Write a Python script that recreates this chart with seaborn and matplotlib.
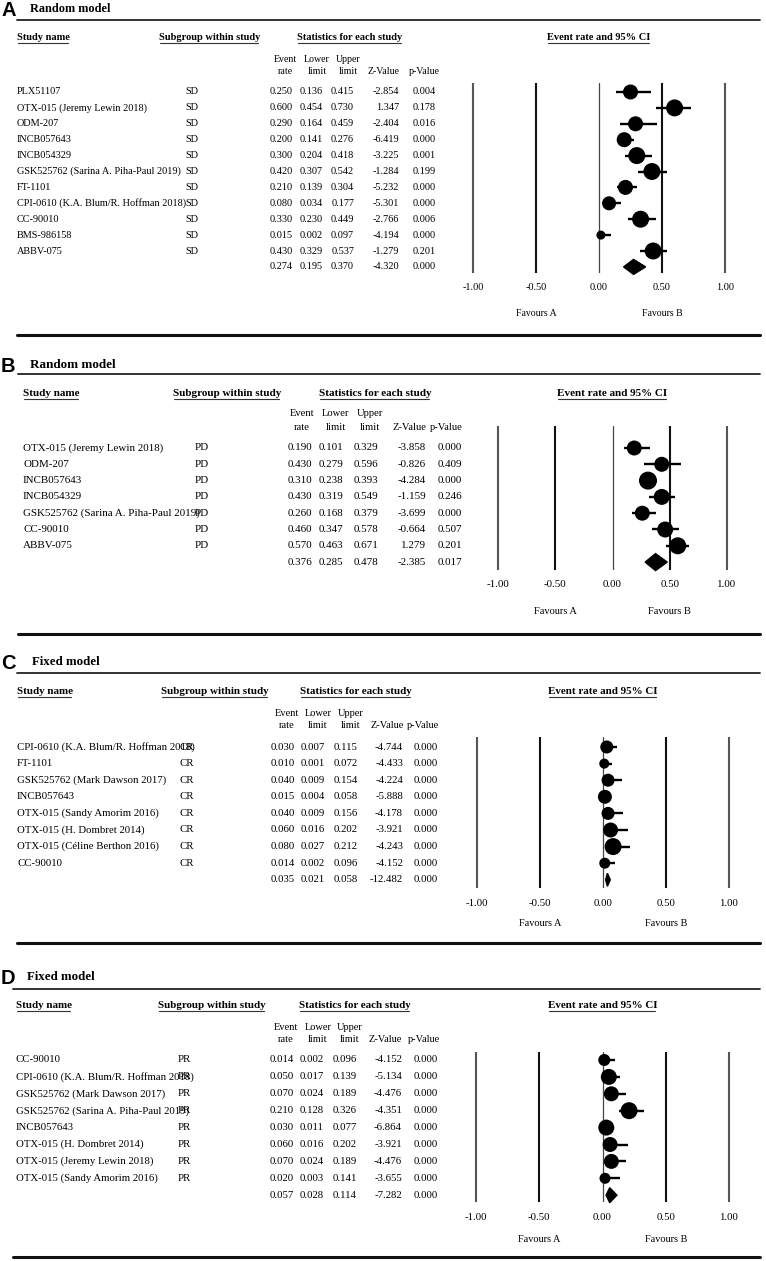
import pandas as pd
import seaborn as sns
import matplotlib.pyplot as plt
from matplotlib import transforms

OUT = "out.png"
W, H = 766, 1261

# ---- Panel A: SD, random model
studies_a = ["PLX51107", "OTX-015 (Jeremy Lewin 2018)", "ODM-207", "INCB057643", "INCB054329",
             "GSK525762 (Sarina A. Piha-Paul 2019)", "FT-1101",
             "CPI-0610 (K.A. Blum/R. Hoffman 2018)", "CC-90010", "BMS-986158", "ABBV-075"]
rate_a = [0.250, 0.600, 0.290, 0.200, 0.300, 0.420, 0.210, 0.080, 0.330, 0.015, 0.430]
lower_a = [0.136, 0.454, 0.164, 0.141, 0.204, 0.307, 0.139, 0.034, 0.230, 0.002, 0.329]
upper_a = [0.415, 0.730, 0.459, 0.276, 0.418, 0.542, 0.304, 0.177, 0.449, 0.097, 0.537]
z_a = [-2.854, 1.347, -2.404, -6.419, -3.225, -1.284, -5.232, -5.301, -2.766, -4.194, -1.279]
p_a = [0.004, 0.178, 0.016, 0.000, 0.001, 0.199, 0.000, 0.000, 0.006, 0.000, 0.201]
weight_a = [8.6, 11.0, 8.6, 8.6, 11.0, 11.0, 8.6, 7.5, 11.0, 3.1, 11.0]
pooled_a = [0.274, 0.195, 0.370, -4.320, 0.000]

# ---- Panel B: PD, random model
studies_b = ["OTX-015 (Jeremy Lewin 2018)", "ODM-207", "INCB057643", "INCB054329",
             "GSK525762 (Sarina A. Piha-Paul 2019)", "CC-90010", "ABBV-075"]
rate_b = [0.190, 0.430, 0.310, 0.430, 0.260, 0.460, 0.570]
lower_b = [0.101, 0.279, 0.238, 0.319, 0.168, 0.347, 0.463]
upper_b = [0.329, 0.596, 0.393, 0.549, 0.379, 0.578, 0.671]
z_b = [-3.858, -0.826, -4.284, -1.159, -3.699, -0.664, 1.279]
p_b = [0.000, 0.409, 0.000, 0.246, 0.000, 0.507, 0.201]
weight_b = [12.5, 12.5, 18.0, 14.2, 12.5, 14.2, 16.1]
pooled_b = [0.376, 0.285, 0.478, -2.385, 0.017]

# ---- Panel C: CR, fixed model
studies_c = ["CPI-0610 (K.A. Blum/R. Hoffman 2018)", "FT-1101", "GSK525762 (Mark Dawson 2017)",
             "INCB057643", "OTX-015 (Sandy Amorim 2016)", "OTX-015 (H. Dombret 2014)",
             "OTX-015 (Céline Berthon 2016)", "CC-90010"]
rate_c = [0.030, 0.010, 0.040, 0.015, 0.040, 0.060, 0.080, 0.014]
lower_c = [0.007, 0.001, 0.009, 0.004, 0.009, 0.016, 0.027, 0.002]
upper_c = [0.115, 0.072, 0.154, 0.058, 0.156, 0.202, 0.212, 0.096]
z_c = [-4.744, -4.433, -4.224, -5.888, -4.178, -3.921, -4.243, -4.152]
p_c = [0.000, 0.000, 0.000, 0.000, 0.000, 0.000, 0.000, 0.000]
weight_c = [11.8, 7.0, 11.8, 13.6, 11.8, 15.6, 20.1, 8.4]
pooled_c = [0.035, 0.021, 0.058, -12.482, 0.000]

# ---- Panel D: PR, fixed model
studies_d = ["CC-90010", "CPI-0610 (K.A. Blum/R. Hoffman 2018)", "GSK525762 (Mark Dawson 2017)",
             "GSK525762 (Sarina A. Piha-Paul 2019)", "INCB057643", "OTX-015 (H. Dombret 2014)",
             "OTX-015 (Jeremy Lewin 2018)", "OTX-015 (Sandy Amorim 2016)"]
rate_d = [0.014, 0.050, 0.070, 0.210, 0.030, 0.060, 0.070, 0.020]
lower_d = [0.002, 0.017, 0.024, 0.128, 0.011, 0.016, 0.024, 0.003]
upper_d = [0.096, 0.139, 0.189, 0.326, 0.077, 0.202, 0.189, 0.141]
z_d = [-4.152, -5.134, -4.476, -4.351, -6.864, -3.921, -4.476, -3.655]
p_d = [0.000, 0.000, 0.000, 0.000, 0.000, 0.000, 0.000, 0.000]
weight_d = [8.3, 14.7, 12.9, 16.6, 14.7, 12.9, 12.9, 7.0]
pooled_d = [0.057, 0.028, 0.114, -7.282, 0.000]

tick_values = [-1.0, -0.5, 0.0, 0.5, 1.0]
tick_labels = ["-1.00", "-0.50", "0.00", "0.50", "1.00"]
col_head_top = ["Event", "Lower", "Upper", "", ""]
col_head_bot = ["rate", "limit", "limit", "Z-Value", "p-Value"]

# layout per panel, in pixels of the 766x1261 canvas
layouts = [
    dict(letter="A", title="Random model", sub="SD", title_y=9, title_x=30, rule_y=20, rule_x=17,
         head_y=38, col_y=(60, 72), row0=92, step=15.9, xm1=473, xp1=725, line_top=83, line_bot=273,
         tick_y=287, fav_y=313, bottom_y=335, name_x=17, sub_head_x=159, sub_x=185, stat_cx=350,
         col_right=[293, 323, 354, 399, 436], col_cx=[285, 317, 348, 384, 424],
         max_dot=17, diamond_h=7.5, scale=1.0),
    dict(letter="B", title="Random model", sub="PD", title_y=365, title_x=30, rule_y=374, rule_x=18,
         head_y=393, col_y=(414, 427), row0=448, step=16.3, xm1=498, xp1=727, line_top=426, line_bot=570,
         tick_y=585, fav_y=612, bottom_y=634, name_x=23, sub_head_x=173, sub_x=195, stat_cx=375,
         col_right=[312, 343, 378, 426, 462], col_cx=[302, 336, 370, 409, 446],
         max_dot=18, diamond_h=8.5, scale=1.07),
    dict(letter="C", title="Fixed model", sub="CR", title_y=662, title_x=32, rule_y=673, rule_x=17,
         head_y=692, col_y=(713, 725), row0=747, step=16.6, xm1=477, xp1=729, line_top=737, line_bot=888,
         tick_y=903, fav_y=923, bottom_y=943, name_x=17, sub_head_x=161, sub_x=179, stat_cx=356,
         col_right=[295, 325, 358, 403, 438], col_cx=[287, 318, 351, 387, 423],
         max_dot=17, diamond_h=6.5, scale=1.05),
    dict(letter="D", title="Fixed model", sub="PR", title_y=977, title_x=27, rule_y=989, rule_x=13,
         head_y=1006, col_y=(1027, 1039), row0=1060, step=16.9, xm1=476, xp1=729, line_top=1052, line_bot=1202,
         tick_y=1218, fav_y=1240, bottom_y=1257, name_x=16, sub_head_x=158, sub_x=178, stat_cx=355,
         col_right=[294, 324, 357, 402, 438], col_cx=[286, 318, 350, 385, 424],
         max_dot=17, diamond_h=7.5, scale=1.05),
]

panels = [
    (studies_a, rate_a, lower_a, upper_a, z_a, p_a, weight_a, pooled_a),
    (studies_b, rate_b, lower_b, upper_b, z_b, p_b, weight_b, pooled_b),
    (studies_c, rate_c, lower_c, upper_c, z_c, p_c, weight_c, pooled_c),
    (studies_d, rate_d, lower_d, upper_d, z_d, p_d, weight_d, pooled_d),
]


def draw_panel(fig, bg, lay, data, underlined):
    studies, rate, lower, upper, z, p, weight, pooled = data
    n = len(studies)
    s = lay["scale"]
    df = pd.DataFrame({"study": studies, "rate": rate, "lower": lower, "upper": upper,
                       "z": z, "p": p, "weight": weight, "row": range(n)})

    # forest axes: x in effect units, y in row index
    unit = (lay["xp1"] - lay["xm1"]) / 2
    x0 = (lay["xp1"] + lay["xm1"]) / 2
    left = x0 - 1.3 * unit
    ax = fig.add_axes([left / W, 1 - lay["line_bot"] / H, 2.6 * unit / W,
                       (lay["line_bot"] - lay["line_top"]) / H])
    ax.patch.set_alpha(0)
    for sp in ax.spines.values():
        sp.set_visible(False)

    for tv in tick_values:
        if tv == 0:
            ax.axvline(tv, color="#444444", lw=0.9, zorder=1)
        elif abs(tv) == 1:
            ax.axvline(tv, color="#555555", lw=1.5, zorder=1)
        else:
            ax.axvline(tv, color="#111111", lw=1.5, zorder=1)

    ax.hlines(df["row"], df["lower"], df["upper"], color="black", lw=1.7, zorder=2, clip_on=False)
    smax = (lay["max_dot"] * 0.72) ** 2
    sns.scatterplot(data=df, x="rate", y="row", size="weight", sizes=(0, smax),
                    size_norm=(0, max(weight)), color="black", edgecolor="black", linewidth=0,
                    legend=False, ax=ax, zorder=3)
    for c in ax.collections:
        c.set_clip_on(False)

    hd = lay["diamond_h"] / lay["step"]
    er, lo, hi = pooled[0], pooled[1], pooled[2]
    ax.fill([lo, er, hi, er], [n, n - hd, n, n + hd], color="black", zorder=3, clip_on=False)

    ax.set_xlim(-1.3, 1.3)
    ax.set_ylim((lay["line_bot"] - lay["row0"]) / lay["step"], (lay["line_top"] - lay["row0"]) / lay["step"])
    ax.set_yticks([])
    ax.set_xlabel("")
    ax.set_ylabel("")
    ax.set_xticks(tick_values)
    ax.set_xticklabels(tick_labels, fontsize=7.4 * s)
    ax.tick_params(axis="x", length=0, pad=(lay["tick_y"] - lay["line_bot"]) * 0.72)
    for t in ax.get_xticklabels():
        t.set_va("center")

    # table text: x in canvas pixels, y in rows
    tr = transforms.blended_transform_factory(bg.transData, ax.transData)
    fs = 7.4 * s
    for i in range(n):
        ax.text(lay["name_x"], i, studies[i], transform=tr, fontsize=fs, va="center", ha="left")
        ax.text(lay["sub_x"], i, lay["sub"], transform=tr, fontsize=fs, va="center", ha="left")
        vals = [rate[i], lower[i], upper[i], z[i], p[i]]
        for xr, v in zip(lay["col_right"], vals):
            ax.text(xr, i, f"{v:.3f}", transform=tr, fontsize=fs, va="center", ha="right")
    for xr, v in zip(lay["col_right"], pooled):
        ax.text(xr, n, f"{v:.3f}", transform=tr, fontsize=fs, va="center", ha="right")

    # column heads
    for cx, t1, t2 in zip(lay["col_cx"], col_head_top, col_head_bot):
        if t1:
            bg.text(cx, lay["col_y"][0], t1, fontsize=7.1 * s, ha="center", va="center")
        bg.text(cx, lay["col_y"][1], t2, fontsize=7.1 * s, ha="center", va="center")

    # titles and rules
    bg.text(1, lay["title_y"] + 1.5, lay["letter"], family=["Liberation Sans", "DejaVu Sans"],
            fontweight="bold", fontsize=14.5, ha="left", va="center")
    bg.text(lay["title_x"], lay["title_y"], lay["title"], fontweight="bold", fontsize=8.8 * s,
            ha="left", va="center")
    bg.plot([lay["rule_x"], 760], [lay["rule_y"]] * 2, color="#222222", lw=1.3)
    bg.plot([lay["rule_x"], 760], [lay["bottom_y"]] * 2, color="#111111", lw=2.2)

    hfs = 7.5 * s
    heads = [
        bg.text(lay["name_x"], lay["head_y"], "Study name", fontweight="bold", fontsize=hfs,
                ha="left", va="center"),
        bg.text(lay["sub_head_x"], lay["head_y"], "Subgroup within study", fontweight="bold",
                fontsize=hfs, ha="left", va="center"),
        bg.text(lay["stat_cx"], lay["head_y"], "Statistics for each study", fontweight="bold",
                fontsize=hfs, ha="center", va="center"),
        bg.text(x0, lay["head_y"], "Event rate and 95% CI", fontweight="bold",
                fontsize=hfs, ha="center", va="center"),
    ]
    for t in heads:
        underlined.append((t, lay["head_y"] + 0.5 * hfs / 0.72))

    trf = transforms.blended_transform_factory(ax.transData, bg.transData)
    ax.text(-0.5, lay["fav_y"], "Favours A", transform=trf, fontsize=7.0 * s, ha="center", va="center")
    ax.text(0.5, lay["fav_y"], "Favours B", transform=trf, fontsize=7.0 * s, ha="center", va="center")


def main():
    sns.set_style("white")
    plt.rcParams["font.family"] = ["Liberation Serif", "DejaVu Serif"]
    plt.rcParams["text.color"] = "black"
    plt.rcParams["xtick.color"] = "black"

    fig = plt.figure(figsize=(W / 100, H / 100), dpi=100)
    bg = fig.add_axes([0, 0, 1, 1])
    bg.set_xlim(0, W)
    bg.set_ylim(H, 0)
    bg.axis("off")

    underlined = []
    for lay, data in zip(layouts, panels):
        draw_panel(fig, bg, lay, data, underlined)

    fig.canvas.draw()
    renderer = fig.canvas.get_renderer()
    for t, yline in underlined:
        bb = t.get_window_extent(renderer)
        bg.plot([bb.x0 + 1, bb.x1 - 2], [yline, yline], color="#333333", lw=0.8)

    fig.savefig(OUT, dpi=100)


if __name__ == "__main__":
    main()
